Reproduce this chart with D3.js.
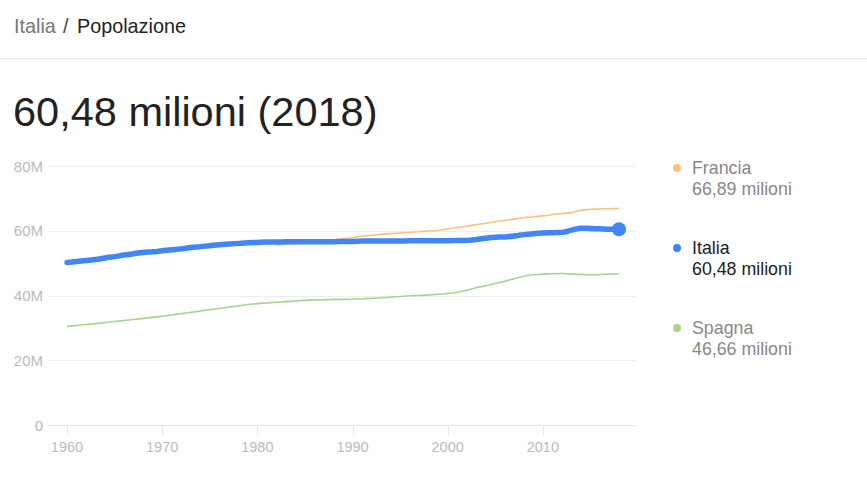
<!DOCTYPE html>
<html><head><meta charset="utf-8">
<script src="https://cdn.jsdelivr.net/npm/d3@7"></script>
<style>body{margin:0;background:#fff;font-family:Arial,"Liberation Sans",sans-serif;}</style>
</head><body><svg id="c" width="867" height="481"></svg>
<script>
const years = d3.range(1960, 2019);
const italia = [50.2,50.5,50.8,51.1,51.6,52.0,52.5,52.9,53.3,53.5,53.8,54.1,54.4,54.8,55.1,55.4,55.7,55.9,56.1,56.3,56.4,56.5,56.5,56.6,56.6,56.6,56.6,56.6,56.6,56.7,56.7,56.8,56.8,56.8,56.8,56.8,56.9,56.9,56.9,56.9,56.9,57.0,57.0,57.3,57.7,58.0,58.1,58.4,58.8,59.1,59.3,59.4,59.5,60.2,60.8,60.7,60.6,60.5,60.48];
const franciaYears = d3.range(1982, 2019);
const francia = [55.6,55.8,56.0,56.3,56.6,56.9,57.2,57.5,57.9,58.3,58.6,58.9,59.1,59.3,59.5,59.7,59.9,60.1,60.6,61.0,61.4,61.9,62.3,62.8,63.2,63.6,64.0,64.3,64.6,65.0,65.3,65.6,66.3,66.6,66.7,66.8,66.89];
const spagna = [30.46,30.74,31.03,31.32,31.64,31.96,32.28,32.61,32.94,33.28,33.59,34.0,34.4,34.8,35.2,35.6,36.0,36.4,36.8,37.2,37.5,37.7,37.9,38.1,38.3,38.5,38.6,38.7,38.8,38.8,38.9,39.0,39.1,39.3,39.5,39.7,39.9,40.0,40.2,40.4,40.6,41.0,41.6,42.4,43.0,43.7,44.4,45.2,45.95,46.4,46.6,46.7,46.8,46.6,46.5,46.4,46.5,46.6,46.66];
const yTicks = [0,20,40,60,80];
const yTickLabels = ["0","20M","40M","60M","80M"];
const xTicks = [1960,1970,1980,1990,2000,2010];
const legendNames = ["Francia","Italia","Spagna"];
const legendValues = ["66,89 milioni","60,48 milioni","46,66 milioni"];

const svg = d3.select("#c");
const font = "Arial, 'Liberation Sans', sans-serif";

// header
svg.append("text").attr("x",14).attr("y",33).attr("font-family",font).attr("font-size",19.8).attr("fill","#777").text("Italia");
svg.append("text").attr("x",63).attr("y",33).attr("font-family",font).attr("font-size",19.8).attr("fill","#444").text("/");
svg.append("text").attr("x",77).attr("y",33).attr("font-family",font).attr("font-size",19.8).attr("fill","#222").text("Popolazione");
svg.append("line").attr("x1",0).attr("x2",867).attr("y1",58.5).attr("y2",58.5).attr("stroke","#e6e6e6");

svg.append("text").attr("x",13).attr("y",126).attr("font-family",font).attr("font-size",41.5).attr("fill","#222").text("60,48 milioni (2018)");

const x = d3.scaleLinear().domain([1960,2018]).range([67,619]);
const y = d3.scaleLinear().domain([0,80]).range([425,166]);
const gL = 48, gR = 636;

// gridlines
svg.append("g").selectAll("line").data(yTicks).join("line")
  .attr("x1",gL).attr("x2",gR).attr("y1",d=>Math.round(y(d))+0.5).attr("y2",d=>Math.round(y(d))+0.5)
  .attr("stroke",d=>d===0?"#e3e3e3":"#eeeeee").attr("stroke-width",1);
svg.append("g").selectAll("text").data(yTicks).join("text")
  .attr("x",43).attr("y",d=>y(d)+5.5).attr("text-anchor","end").attr("font-family",font).attr("font-size",15).attr("fill","#bbbbbb")
  .text((d,i)=>yTickLabels[i]);
// x ticks
svg.append("g").selectAll("line").data(xTicks).join("line")
  .attr("x1",d=>Math.round(x(d))+0.5).attr("x2",d=>Math.round(x(d))+0.5).attr("y1",425).attr("y2",435)
  .attr("stroke","#e6e6e6");
svg.append("g").selectAll("text").data(xTicks).join("text")
  .attr("x",d=>x(d)).attr("y",452).attr("text-anchor","middle").attr("font-family",font).attr("font-size",14.5).attr("fill","#bbbbbb")
  .text(d=>d);

const line = d3.line().x(d=>x(d[0])).y(d=>y(d[1])).curve(d3.curveMonotoneX);
const sp = years.map((yr,i)=>[yr,spagna[i]]);
const fr = franciaYears.map((yr,i)=>[yr,francia[i]]);
const it = years.map((yr,i)=>[yr,italia[i]]);
const cFr = "#fbc27b", cIt = "#4285f4", cSp = "#a8d58e";
svg.append("path").attr("d",line(sp)).attr("fill","none").attr("stroke",cSp).attr("stroke-width",1.6);
svg.append("path").attr("d",line(fr)).attr("fill","none").attr("stroke",cFr).attr("stroke-width",1.6);
svg.append("path").attr("d",line(it)).attr("fill","none").attr("stroke",cIt).attr("stroke-width",5.5).attr("stroke-linecap","round").attr("stroke-linejoin","round");
svg.append("circle").attr("cx",x(2018)).attr("cy",y(italia[italia.length-1])).attr("r",7).attr("fill",cIt);

// legend
const cols = [cFr,cIt,cSp];
const tcol = ["#888","#222","#888"];
legendNames.forEach((n,i)=>{
  const y0 = 168 + i*80;
  svg.append("circle").attr("cx",677).attr("cy",y0).attr("r",4).attr("fill",cols[i]);
  svg.append("text").attr("x",692).attr("y",y0+6).attr("font-family",font).attr("font-size",17.8).attr("fill",tcol[i]).text(n);
  svg.append("text").attr("x",692).attr("y",y0+27).attr("font-family",font).attr("font-size",17.8).attr("fill",tcol[i]).text(legendValues[i]);
});
</script></body></html>
